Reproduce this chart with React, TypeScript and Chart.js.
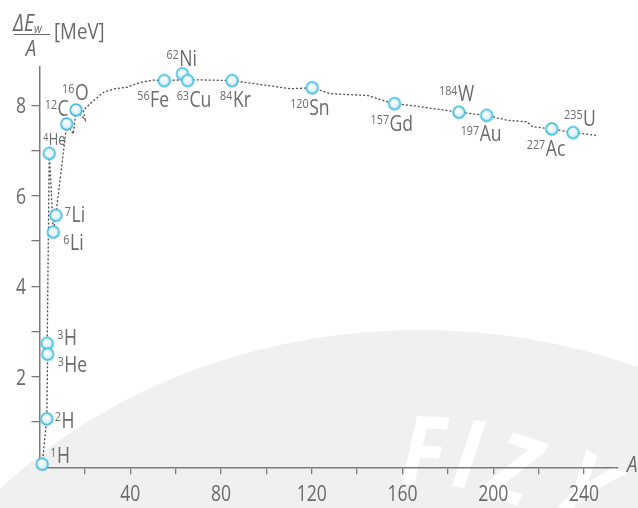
import React, { useEffect, useRef } from "react";
import { Chart, registerables } from "chart.js";

Chart.register(...registerables);

// ---- data ----
const nuclideMass = ["1", "2", "3", "3", "4", "6", "7", "12", "16", "56", "62", "63", "84", "120", "157", "184", "197", "227", "235"];
const nuclideSymbol = ["H", "H", "H", "He", "He", "Li", "Li", "C", "O", "Fe", "Ni", "Cu", "Kr", "Sn", "Gd", "W", "Au", "Ac", "U"];
const nuclideA = [1.2, 3.2, 3.4, 3.6, 4.3, 6.1, 7.2, 12.0, 16.1, 55, 63, 65.3, 84.9, 120.2, 156.5, 184.9, 197.1, 225.8, 235.2];
const nuclideE = [0.07, 1.07, 2.74, 2.5, 6.94, 5.2, 5.57, 7.59, 7.9, 8.55, 8.7, 8.55, 8.55, 8.39, 8.04, 7.85, 7.78, 7.48, 7.4];

const curveA = [1.2, 3.2, 3.6, 3.4, 4.3, 6.1, 7.2, 12.0, 14.9, 16.1, 20.1, 19.3, 23, 28.2, 33.3, 38.5, 44.4, 50.2, 55, 65.1, 85, 110.6, 120.2, 128.3, 144.6, 154.7, 176.8, 184.9, 197.1, 206.4, 214.8, 217.4, 225.8, 235.2, 245.3];
const curveE = [0.07, 1.07, 2.5, 2.74, 6.94, 5.2, 5.57, 7.59, 7.37, 7.9, 7.68, 7.89, 8.07, 8.29, 8.37, 8.4, 8.51, 8.56, 8.55, 8.57, 8.55, 8.37, 8.39, 8.26, 8.22, 8.06, 7.91, 7.85, 7.78, 7.67, 7.64, 7.53, 7.48, 7.4, 7.34];

const xTickLabels = [40, 80, 120, 160, 200, 240];
const yTickLabels = [2, 4, 6, 8];

// label placement (pixel offsets from point: left x, baseline y), layout only
const labelOffsets: [number, number][] = [
  [8, -1], [8, 9], [10, 2], [10, 18], [-6, -8], [10, 18], [9, 7], [-22, -8], [-14, -10],
  [-27, 26], [-16, -8], [-11, 26], [-12, 26], [-22, 27], [-24, 27], [-20, -11], [-26, 26], [-25, 27], [-9, -7],
];

const TEXT = "#6a6a6a";
const AXIS = "#7a7a7a";
const FONT = '"Open Sans", "Noto Sans", sans-serif';
const SQ = 0.8;

function makeSphere(): HTMLCanvasElement {
  const c = document.createElement("canvas");
  c.width = 16;
  c.height = 16;
  const g = c.getContext("2d")!;
  const grad = g.createRadialGradient(6.5, 6, 0.5, 8, 8, 6.5);
  grad.addColorStop(0, "#ffffff");
  grad.addColorStop(0.55, "#e2f5fb");
  grad.addColorStop(1, "#a6e0f2");
  g.beginPath();
  g.arc(8, 8, 5.8, 0, Math.PI * 2);
  g.fillStyle = grad;
  g.fill();
  g.lineWidth = 1.7;
  g.strokeStyle = "#45bde0";
  g.stroke();
  return c;
}

function condensedText(ctx: CanvasRenderingContext2D, text: string, x: number, y: number, font: string, align: CanvasTextAlign = "left", sq = SQ) {
  ctx.save();
  ctx.translate(x, y);
  ctx.scale(sq, 1);
  ctx.font = font;
  ctx.textAlign = align;
  ctx.textBaseline = "alphabetic";
  ctx.fillText(text, 0, 0);
  const w = ctx.measureText(text).width * sq;
  ctx.restore();
  return w;
}

const decorPlugin = {
  id: "decor",
  beforeDraw(chart: any) {
    const ctx = chart.ctx as CanvasRenderingContext2D;
    ctx.save();
    ctx.fillStyle = "#ffffff";
    ctx.fillRect(0, 0, chart.width, chart.height);
    ctx.beginPath();
    ctx.ellipse(420, 800, 560, 470, 0, 0, Math.PI * 2);
    ctx.fillStyle = "#f0f0f0";
    ctx.fill();
    ctx.fillStyle = "#ffffff";
    ctx.font = `italic bold 96px ${FONT}`;
    const letters: [string, number, number, number][] = [
      ["F", 400, 484, 0.04],
      ["I", 450, 486, 0.14],
      ["Z", 482, 494, 0.32],
      ["Y", 545, 504, 0.55],
    ];
    for (const [ch, x, y, r] of letters) {
      ctx.save();
      ctx.translate(x, y);
      ctx.rotate(r);
      ctx.scale(0.85, 1);
      ctx.fillText(ch, 0, 0);
      ctx.restore();
    }
    ctx.restore();
  },
  afterDraw(chart: any) {
    const ctx = chart.ctx as CanvasRenderingContext2D;
    const xs = chart.scales.x;
    const ys = chart.scales.y;
    ctx.save();
    ctx.fillStyle = TEXT;
    // tick labels
    for (const v of xTickLabels) {
      condensedText(ctx, String(v), xs.getPixelForValue(v), ys.bottom + 33.5, `22px ${FONT}`, "center");
    }
    for (const v of yTickLabels) {
      condensedText(ctx, String(v), 26, ys.getPixelForValue(v) + 8, `22px ${FONT}`, "right");
    }
    // nuclide labels
    for (let i = 0; i < nuclideA.length; i++) {
      const px = xs.getPixelForValue(nuclideA[i]);
      const py = ys.getPixelForValue(nuclideE[i]);
      const [dx, dy] = labelOffsets[i];
      const small = nuclideSymbol[i] === "He" && nuclideMass[i] === "4";
      const supSize = small ? 11 : 13.5;
      const mainSize = small ? 16 : 22;
      const w = condensedText(ctx, nuclideMass[i], px + dx, py + dy - (small ? 4 : 6.5), `${supSize}px ${FONT}`);
      condensedText(ctx, nuclideSymbol[i], px + dx + w + 0.5, py + dy, `${mainSize}px ${FONT}`);
    }
    // y axis title
    const wDE = condensedText(ctx, "ΔE", 13, 30.5, `italic 23px ${FONT}`, "left", 0.85);
    condensedText(ctx, "w", 13 + wDE, 33, `italic 13px ${FONT}`, "left", 0.85);
    ctx.strokeStyle = TEXT;
    ctx.lineWidth = 1.2;
    ctx.beginPath();
    ctx.moveTo(14, 34.5);
    ctx.lineTo(50, 34.5);
    ctx.stroke();
    condensedText(ctx, "A", 31, 56, `italic 22px ${FONT}`, "center", 0.85);
    condensedText(ctx, "[MeV]", 54, 38.5, `22px ${FONT}`, "left", 0.85);
    // x axis title
    condensedText(ctx, "A", 627, 472, `italic 22px ${FONT}`, "left", 0.85);
    ctx.restore();
  },
};

export default function App() {
  const ref = useRef<HTMLCanvasElement>(null);
  useEffect(() => {
    if (!ref.current) return;
    const sphere = makeSphere();
    const gridColor = (c: any) => (c.tick && c.tick.value === 0 ? "rgba(0,0,0,0)" : AXIS);
    const chart = new Chart(ref.current, {
      type: "scatter",
      data: {
        datasets: [
          {
            label: "nuclides",
            data: nuclideA.map((a, i) => ({ x: a, y: nuclideE[i] })),
            pointStyle: sphere as any,
            pointRadius: 6,
            showLine: false,
            clip: false as any,
          },
          {
            label: "curve",
            data: curveA.map((a, i) => ({ x: a, y: curveE[i] })),
            showLine: true,
            pointRadius: 0,
            borderColor: "#4a4a4a",
            borderWidth: 1.3,
            borderDash: [2, 2],
            tension: 0,
            clip: false as any,
          },
        ],
      },
      options: {
        animation: false,
        responsive: false,
        devicePixelRatio: 1,
        layout: { padding: { top: 67, right: 20, left: 0, bottom: 0 } },
        plugins: { legend: { display: false }, tooltip: { enabled: false } },
        scales: {
          x: {
            type: "linear",
            min: 0,
            max: 255,
            ticks: { stepSize: 20, includeBounds: false, display: false },
            grid: { drawOnChartArea: false, drawTicks: true, tickLength: 7, color: gridColor, lineWidth: 1.3 },
            border: { display: true, color: AXIS, width: 1.5 },
            afterFit: (s: any) => {
              s.height = 40.7;
            },
          },
          y: {
            type: "linear",
            min: 0,
            max: 8.85,
            ticks: { stepSize: 1, includeBounds: false, display: false },
            grid: { drawOnChartArea: false, drawTicks: true, tickLength: 8, color: gridColor, lineWidth: 1.3 },
            border: { display: true, color: AXIS, width: 1.5 },
            afterFit: (s: any) => {
              s.width = 39.5;
            },
          },
        },
      },
      plugins: [decorPlugin],
    });
    return () => chart.destroy();
  }, []);
  return (
    <div style={{ position: "fixed", left: 0, top: 0, width: 638, height: 508, background: "#fff" }}>
      <canvas ref={ref} width={638} height={508} style={{ display: "block" }} />
    </div>
  );
}
